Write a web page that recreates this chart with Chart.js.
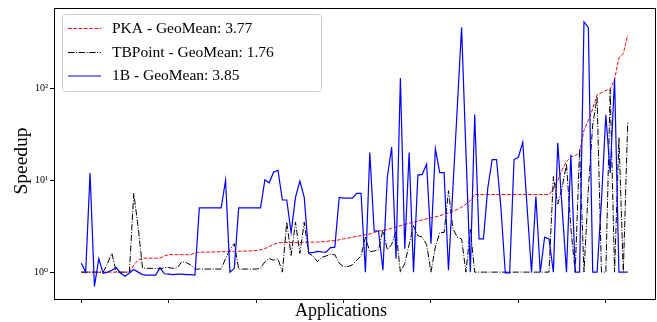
<!DOCTYPE html>
<html lang="en">
<head>
<meta charset="UTF-8">
<title>Speedup per application</title>
<script src="https://cdn.jsdelivr.net/npm/chart.js@4.4.0/dist/chart.umd.min.js"></script>
<style>
    html, body { margin: 0; padding: 0; background: #fff; }
    .chart-container { position: relative; width: 657px; height: 322px; }
</style>
</head>
<body>
<div class="chart-container"><canvas id="speedupChart" width="657" height="322"></canvas></div>
<script>
// PKA speedup per application (applications sorted by PKA)
const pka = [
    1.0, 1.0, 1.0, 1.0, 1.0, 1.0, 1.0, 1.0, 1.0, 1.0, 1.0, 1.0, 1.2, 1.35, 1.42, 1.42, 1.42, 1.42, 1.42, 1.5,
    1.55, 1.55, 1.55, 1.55, 1.55, 1.55, 1.62, 1.65, 1.65, 1.65, 1.66, 1.66, 1.67, 1.67, 1.68, 1.68, 1.69, 1.69, 1.7, 1.7,
    1.72, 1.75, 1.8, 1.9, 2.0, 2.08, 2.1, 2.1, 2.1, 2.1, 2.1, 2.12, 2.12, 2.12, 2.13, 2.14, 2.15, 2.2, 2.2, 2.25,
    2.3, 2.35, 2.4, 2.45, 2.5, 2.55, 2.6, 2.7, 2.8, 2.85, 2.9, 3.0, 3.1, 3.2, 3.3, 3.4, 3.5, 3.6, 3.7, 3.8,
    3.9, 4.0, 4.1, 4.3, 4.4, 4.6, 4.8, 5.1, 5.5, 6.0, 7.0, 7.0, 7.0, 7.0, 7.0, 7.0, 7.0, 7.0, 7.0, 7.0,
    7.0, 7.0, 7.0, 7.0, 7.0, 7.0, 7.0, 7.0, 8, 10, 13, 16, 18, 18.5, 20, 35, 45, 60, 85, 90,
    95, 98, 125, 215, 240, 380
];
// TBPoint speedup
const tbpoint = [
    1.0, 1.0, 1.0, 1.0, 1.0, 1.0, 1.25, 1.6, 1.0, 1.0, 1.0, 1.0, 7.2, 3.1, 1.11, 1.1, 1.1, 1.1, 1.08, 1.12,
    1.12, 1.1, 1.12, 1.3, 1.27, 1.2, 1.08, 1.08, 1.08, 1.08, 1.08, 1.08, 1.08, 1.4, 1.75, 2.04, 1.08, 1.08, 1.08, 1.08,
    1.08, 1.1, 1.3, 1.4, 1.35, 1.4, 1.0, 3.5, 1.52, 3.5, 1.6, 3.5, 1.6, 1.5, 1.3, 1.45, 1.5, 1.56, 1.55, 1.25,
    1.15, 1.15, 1.2, 1.35, 1.5, 2.4, 1.66, 1.7, 1.75, 2.9, 1.75, 2.0, 2.8, 1.0, 1.24, 2.0, 3.2, 2.5, 2.4, 2.0,
    1.0, 1.88, 2.7, 2.7, 7.7, 3.0, 2.4, 2.3, 1.0, 2.9, 1.0, 1.0, 1.0, 1.0, 1.0, 1.0, 1.0, 1.0, 1.0, 1.0,
    1.0, 1.0, 1.0, 1.0, 1.0, 1.0, 1.0, 1.0, 11, 5.5, 8.3, 15, 3, 1.0, 22, 1.0, 8, 40, 80, 1.0,
    1.0, 97, 1.0, 29, 1.0, 42
];
// 1B speedup
const oneB = [
    1.25, 1.0, 12, 0.7, 1.4, 0.97, 1.0, 1.05, 1.12, 0.97, 0.9, 0.98, 1.07, 1.0, 0.94, 0.93, 0.93, 0.93, 1.12, 0.96,
    0.95, 0.94, 0.95, 0.95, 0.94, 0.94, 0.93, 5.0, 5.0, 5.0, 5.0, 5.0, 5.0, 10, 1.0, 1.1, 5.0, 5.0, 5.0, 5.0,
    5.0, 5.0, 10.1, 9.4, 12.3, 12.8, 6.1, 6.1, 2.7, 6.5, 9.8, 6.5, 1.63, 1.63, 1.68, 1.66, 1.65, 1.85, 1.87, 6.5,
    6.4, 6.4, 6.4, 7.2, 7.2, 1.0, 20, 2.8, 2.8, 1.05, 10.7, 23, 1.4, 130, 1.8, 20, 1.0, 11.4, 11.6, 15,
    2.04, 22, 12.1, 12.1, 1.05, 8, 60, 460, 20, 1.0, 52, 2.3, 2.3, 8.3, 16.8, 16.8, 5, 0.98, 0.98, 16.8,
    17.8, 26, 5, 1.0, 6.7, 1.0, 2.4, 2.3, 1.0, 25.5, 5, 1.0, 19, 1.0, 1.0, 530, 460, 1.0, 1.0, 6,
    51.6, 12, 127, 1.0, 1.0, 1.0
];
const apps = pka.map((_, i) => i);
const xTicks = [0, 20, 40, 60, 80, 100, 120];
const yTicks = [1, 10, 100];
const yTickLabels = ['10⁰', '10¹', '10²'];
const seriesLabels = ['PKA - GeoMean: 3.77', 'TBPoint - GeoMean: 1.76', '1B - GeoMean: 3.85'];
const xTitle = 'Applications';
const yTitle = 'Speedup';

const serif = '"Liberation Serif", "DejaVu Serif", serif';

function points(values) {
    return apps.map((x, i) => ({ x: x, y: values[i] }));
}

const datasets = [
    { label: seriesLabels[0], data: points(pka), borderColor: '#ff0000', borderWidth: 1, borderDash: [3.7, 1.6], order: 2 },
    { label: seriesLabels[1], data: points(tbpoint), borderColor: '#000000', borderWidth: 1, borderDash: [6.4, 1.6, 1, 1.6], order: 1 },
    { label: seriesLabels[2], data: points(oneB), borderColor: '#0000ff', borderWidth: 1.2, borderDash: [], order: 0 }
];
datasets.forEach(d => { d.pointRadius = 0; d.tension = 0; d.fill = false; });

// frame on all four sides, axis titles and legend box inside the axes
const framePlugin = {
    id: 'frame',
    afterDraw(chart) {
        const { ctx, chartArea: a } = chart;
        ctx.save();
        ctx.strokeStyle = '#000';
        ctx.lineWidth = 1;
        ctx.strokeRect(Math.round(a.left) + 0.5, Math.round(a.top) + 0.5, Math.round(a.right - a.left), Math.round(a.bottom - a.top));

        // axis titles
        ctx.fillStyle = '#000';
        ctx.textAlign = 'center';
        ctx.textBaseline = 'middle';
        ctx.font = '18px ' + serif;
        ctx.fillText(xTitle, 341, 311);
        ctx.save();
        ctx.translate(22, 161);
        ctx.rotate(-Math.PI / 2);
        ctx.font = '19.5px ' + serif;
        ctx.fillText(yTitle, 0, 0);
        ctx.restore();

        // legend
        const bx = 62, by = 14, bw = 259, bh = 77;
        ctx.beginPath();
        ctx.roundRect(bx + 0.5, by + 0.5, bw, bh, 3);
        ctx.fillStyle = 'rgba(255,255,255,0.8)';
        ctx.fill();
        ctx.strokeStyle = '#cccccc';
        ctx.stroke();
        const rows = [28.5, 52.5, 76];
        ctx.font = '15.5px ' + serif;
        ctx.textAlign = 'left';
        ctx.textBaseline = 'middle';
        datasets.forEach((d, i) => {
            ctx.beginPath();
            ctx.setLineDash(d.borderDash);
            ctx.strokeStyle = d.borderColor;
            ctx.lineWidth = d.borderWidth;
            ctx.moveTo(68, rows[i]);
            ctx.lineTo(101, rows[i]);
            ctx.stroke();
            ctx.setLineDash([]);
            ctx.fillStyle = '#000';
            ctx.fillText(d.label, 112, rows[i]);
        });
        ctx.restore();
    }
};

new Chart(document.getElementById('speedupChart'), {
    type: 'line',
    data: { datasets: datasets },
    plugins: [framePlugin],
    options: {
        responsive: false,
        animation: false,
        layout: { padding: { top: 6, right: 2, left: 0, bottom: 0 } },
        plugins: { legend: { display: false }, tooltip: { enabled: false } },
        scales: {
            x: {
                type: 'linear',
                min: -6.25,
                max: 131.25,
                afterBuildTicks: s => { s.ticks = xTicks.map(v => ({ value: v })); },
                afterFit: s => { s.height = 23; },
                ticks: { display: false },
                grid: { drawOnChartArea: false, drawTicks: true, tickLength: 4, color: '#000' },
                border: { display: true, color: '#000', width: 1 }
            },
            y: {
                type: 'logarithmic',
                min: 0.51,
                max: 750,
                afterBuildTicks: s => { s.ticks = yTicks.map(v => ({ value: v })); },
                afterFit: s => { s.width = 54; },
                ticks: {
                    color: '#000',
                    padding: 2,
                    font: { family: serif, size: 10 },
                    callback: v => yTickLabels[yTicks.indexOf(v)]
                },
                grid: { drawOnChartArea: false, drawTicks: true, tickLength: 4, color: '#000' },
                border: { display: true, color: '#000', width: 1 }
            }
        }
    }
});
</script>
</body>
</html>
